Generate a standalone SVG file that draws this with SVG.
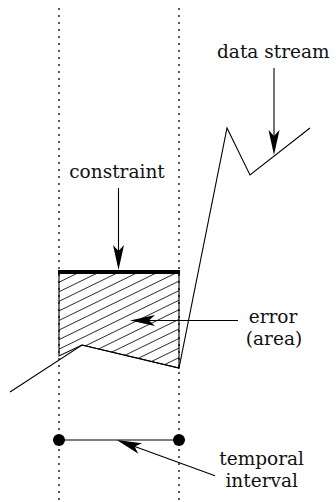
<svg xmlns="http://www.w3.org/2000/svg" width="336" height="502" viewBox="0 0 336 502">
<style>
.lbl{font-family:"DejaVu Serif","Liberation Serif",serif;font-size:18.5px;fill:#111;text-anchor:middle}
.ln{fill:none;stroke:#000;stroke-width:1.1}
.dot{fill:none;stroke:#000;stroke-width:1.3;stroke-dasharray:2 5}
</style>
<defs>
<marker id="ah" markerUnits="userSpaceOnUse" viewBox="-27 -7 29 14" markerWidth="29" markerHeight="14" refX="-17" refY="0" orient="auto">
<path d="M0,0 L-25,-5.5 L-19,0 L-25,5.5 Z" fill="#000"/>
</marker>
<pattern id="hatch" patternUnits="userSpaceOnUse" width="20" height="8.6" patternTransform="rotate(-26)">
<path d="M0,4.3 H20" stroke="#222" stroke-width="0.9"/>
</pattern>
</defs>
<g id="guides">
<line class="dot" x1="59" y1="8" x2="59" y2="502"/>
<line class="dot" x1="179" y1="8" x2="179" y2="502"/>
</g>
<g id="error-area">
<path d="M59,272 H179 V368 L82,345 L59,356 Z" fill="url(#hatch)" stroke="#000" stroke-width="1.1"/>
</g>
<g id="constraint-bar">
<line x1="58" y1="272" x2="180" y2="272" stroke="#000" stroke-width="4"/>
</g>
<g id="data-stream-line">
<polyline class="ln" points="10,392 82,345 179,368 227,128 250,175 310,128"/>
</g>
<g id="interval">
<line class="ln" x1="59" y1="440" x2="179" y2="440"/>
<circle cx="59" cy="440" r="6" fill="#000"/>
<circle cx="179" cy="440" r="6" fill="#000"/>
</g>
<g id="connectors">
<path class="ln" d="M274,68 V138" marker-end="url(#ah)"/>
<path class="ln" d="M118.5,188 V253" marker-end="url(#ah)"/>
<path class="ln" d="M238,320.5 H147" marker-end="url(#ah)"/>
<path class="ln" d="M215,475.7 L132.7,445.8" marker-end="url(#ah)"/>
</g>
<g id="labels">
<text class="lbl" x="273.3" y="58">data stream</text>
<text class="lbl" x="117" y="178">constraint</text>
<text class="lbl" x="273" y="322.5">error</text>
<text class="lbl" x="274" y="345">(area)</text>
<text class="lbl" x="261.7" y="465">temporal</text>
<text class="lbl" x="261.7" y="487">interval</text>
</g>
</svg>
